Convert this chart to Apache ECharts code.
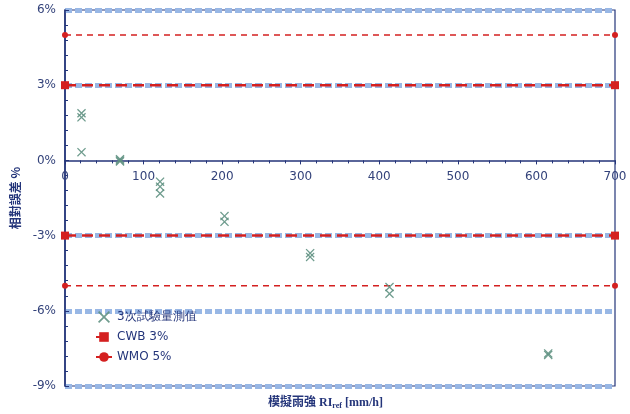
<!DOCTYPE html>
<html>
<head>
<meta charset="utf-8">
<script src="https://cdn.jsdelivr.net/npm/echarts@6/dist/echarts.min.js"></script>
<style>
  html, body { margin: 0; padding: 0; background: #ffffff; }
  #chart { width: 630px; height: 414px; }
</style>
</head>
<body>
<div id="chart"></div>
<script>
// Rain intensity of each test [mm/h] and the relative error of each of the three runs [%]
const rainIntensity = [21, 21, 21, 70, 70, 70, 121, 121, 121, 203, 203, 312, 312, 413, 413, 615, 615];
const relativeError = [1.88, 1.72, 0.33, 0.05, 0.0, -0.04, -0.85, -1.05, -1.32, -2.22, -2.45, -3.7, -3.85, -5.05, -5.32, -7.7, -7.76];

// Tolerance limits
const cwbLimit = 3;   // CWB 3%
const wmoLimit = 5;   // WMO 5%
const xRange = [0, 700];

// Axis ticks
const yTicks = [-9, -6, -3, 0, 3, 6];
const xTicks = [0, 100, 200, 300, 400, 500, 600, 700];

const seriesNames = ['3次試驗量測值', 'CWB 3%', 'WMO 5%'];

const navy = '#24357a';
const red = '#d42020';
const band = '#98b7e5';
const crossPath = 'path://M0,1L1,0L5,4L9,0L10,1L6,5L10,9L9,10L5,6L1,10L0,9L4,5Z';

const measured = rainIntensity.map((x, i) => [x, relativeError[i]]);
const limitLine = v => [[xRange[0], v], [xRange[1], v]];

// one split line per major tick; the one at zero is covered by the x axis
const splitColors = yTicks.map(v => (v === 0 ? 'rgba(0,0,0,0)' : band));

const gridTop = 10, gridBottom = 28, chartHeight = 414;
const plotHeight = chartHeight - gridTop - gridBottom;
// the x axis crosses the y axis at 0 %
const zeroOffset = -plotHeight * (0 - yTicks[0]) / (yTicks[yTicks.length - 1] - yTicks[0]);

const chart = echarts.init(document.getElementById('chart'), null, { renderer: 'canvas' });

const limitSeries = (name, v, symbol, size, width, dash) => ({
  name: name,
  type: 'line',
  data: limitLine(v),
  symbol: symbol,
  symbolSize: size,
  showSymbol: true,
  lineStyle: { color: red, width: width, type: dash },
  itemStyle: { color: red },
  z: 4,
  silent: true,
  animation: false
});

chart.setOption({
  animation: false,
  grid: {
    left: 65, right: 15, top: gridTop, bottom: gridBottom,
    show: true, borderColor: navy, borderWidth: 1.2, backgroundColor: '#ffffff'
  },
  xAxis: {
    type: 'value',
    position: 'bottom',
    offset: zeroOffset,
    min: xTicks[0], max: xTicks[xTicks.length - 1], interval: 100,
    axisLine: { onZero: false, lineStyle: { color: navy, width: 1.6 } },
    axisTick: { show: true, length: 4, lineStyle: { color: navy } },
    minorTick: { show: true, splitNumber: 5, length: 3, lineStyle: { color: navy } },
    axisLabel: { color: '#33427a', fontFamily: 'DejaVu Sans', fontSize: 12, margin: 10 },
    splitLine: { show: false }
  },
  yAxis: {
    type: 'value',
    min: yTicks[0], max: yTicks[yTicks.length - 1], interval: 3,
    name: '相對誤差 %',
    nameLocation: 'middle',
    nameGap: 40,
    nameTextStyle: { color: navy, fontSize: 12, fontWeight: 'bold', fontFamily: 'Noto Sans CJK TC' },
    axisLine: { show: true, lineStyle: { color: navy, width: 1.6 } },
    axisTick: { show: true, inside: true, length: 4, lineStyle: { color: navy } },
    minorTick: { show: true, splitNumber: 5, length: 3, lineStyle: { color: navy } },
    axisLabel: { color: '#33427a', fontFamily: 'DejaVu Sans', fontSize: 12, margin: 9, formatter: '{value}%' },
    splitLine: { show: true, lineStyle: { color: splitColors, width: 5, type: [7, 3] } }
  },
  legend: {
    orient: 'vertical',
    left: 90, top: 306,
    itemWidth: 16, itemHeight: 12, itemGap: 8,
    data: seriesNames,
    textStyle: { color: navy, fontSize: 12, fontFamily: 'DejaVu Sans' },
    backgroundColor: 'rgba(0,0,0,0)'
  },
  graphic: [{
    type: 'text',
    left: 268, top: 397,
    style: {
      text: '{a|模擬雨強 RI}{s|ref}{a| [mm/h]}',
      rich: {
        a: { fontSize: 12, fontWeight: 'bold', fontFamily: 'Liberation Serif, Noto Sans CJK TC', fill: navy },
        s: { fontSize: 8, fontWeight: 'bold', fontFamily: 'Liberation Serif', fill: navy, padding: [6, 0, 0, 0] }
      }
    }
  }],
  series: [
    {
      name: seriesNames[0],
      type: 'scatter',
      data: measured,
      symbol: crossPath,
      symbolSize: 9,
      itemStyle: { color: '#5f9182', opacity: 0.9 },
      z: 5
    },
    limitSeries(seriesNames[1], cwbLimit, 'rect', 8, 2.5, [11, 6]),
    limitSeries(seriesNames[1], -cwbLimit, 'rect', 8, 2.5, [11, 6]),
    limitSeries(seriesNames[2], wmoLimit, 'circle', 6, 1.5, [6, 5]),
    limitSeries(seriesNames[2], -wmoLimit, 'circle', 6, 1.5, [6, 5])
  ]
});
</script>
</body>
</html>
